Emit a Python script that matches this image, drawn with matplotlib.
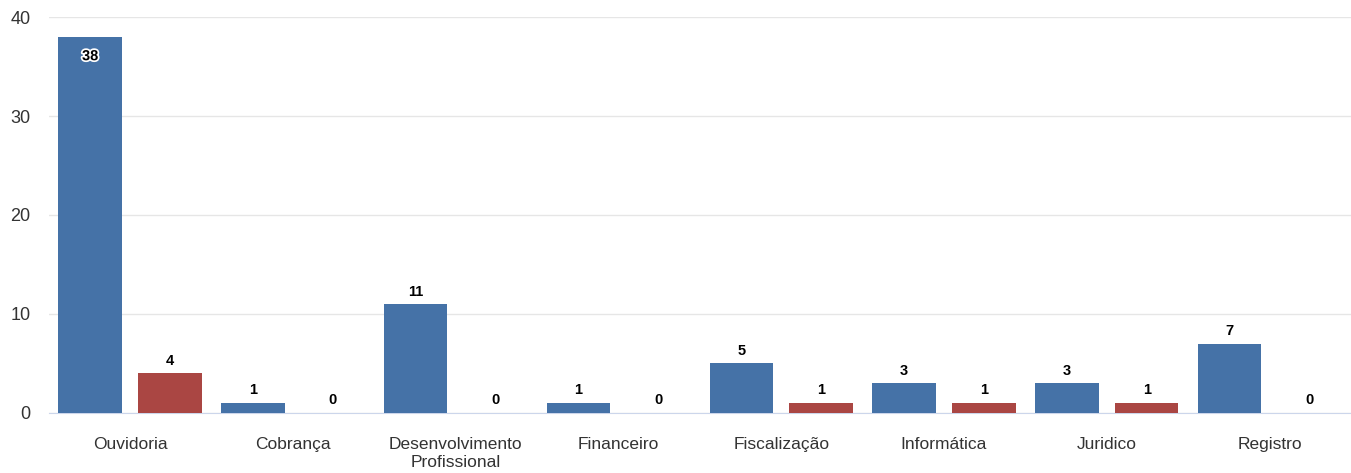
import numpy as np
import matplotlib
matplotlib.use("Agg")
import matplotlib.pyplot as plt
import matplotlib.patheffects as pe

plt.rcParams['font.family'] = ['Liberation Sans', 'DejaVu Sans']

# --- DATA ---
categories = ["Ouvidoria", "Cobrança", "Desenvolvimento\nProfissional", "Financeiro",
              "Fiscalização", "Informática", "Juridico", "Registro"]
serie_a = [38, 1, 11, 1, 5, 3, 3, 7]
serie_b = [4, 0, 0, 0, 1, 1, 1, 0]

BLUE = "#4572A7"
RED = "#AA4643"

fig = plt.figure(figsize=(13.51, 4.73), dpi=100)
ax = fig.add_axes([0.036, 0.127, 0.964, 0.837])

x = np.arange(len(categories))
w = 0.39
off = 0.245
bars_a = ax.bar(x - off, serie_a, width=w, color=BLUE, zorder=3)
bars_b = ax.bar(x + off, serie_b, width=w, color=RED, zorder=3)

# data labels (the tall bar gets its label inside, outlined)
for bars in (bars_a, bars_b):
    for b in bars:
        v = b.get_height()
        cx = b.get_x() + b.get_width() / 2
        if v > 30:
            ax.annotate(f"{int(v)}", (cx, v), xytext=(0, -19), textcoords="offset points",
                        ha="center", va="bottom", fontsize=10.5, fontweight="bold", color="black",
                        path_effects=[pe.withStroke(linewidth=2.5, foreground="white")], zorder=5)
        else:
            ax.annotate(f"{int(v)}", (cx, v), xytext=(0, 4), textcoords="offset points",
                        ha="center", va="bottom", fontsize=10.5, fontweight="bold", color="black",
                        zorder=5)

ax.set_xlim(-0.5, len(categories) - 0.5)
ax.set_ylim(0, 40)
ax.set_yticks([0, 10, 20, 30, 40])
ax.grid(axis="y", color="#e6e6e6", linewidth=1, zorder=0)
ax.set_axisbelow(True)

for s in ("top", "right", "left"):
    ax.spines[s].set_visible(False)
ax.spines["bottom"].set_color("#ccd6eb")

ax.set_xticks(x)
ax.set_xticklabels(categories, fontsize=12.5, color="#333333", linespacing=1.25)
ax.tick_params(axis="x", length=0, pad=17)
ax.tick_params(axis="y", length=0, labelsize=13, labelcolor="#333333", pad=13)

fig.savefig("out.png", dpi=100)
